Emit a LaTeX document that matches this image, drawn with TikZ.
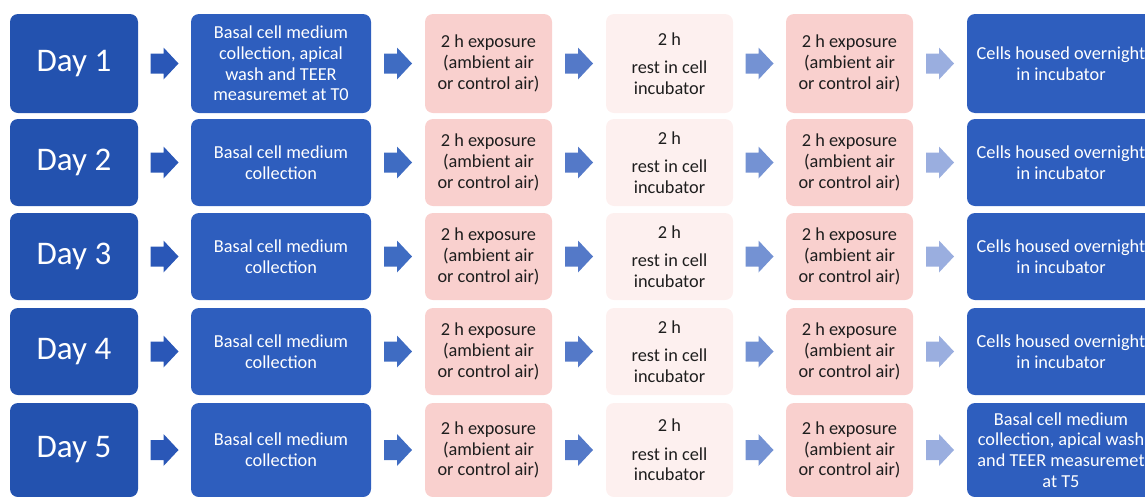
\documentclass[tikz,border=0pt]{standalone}
\usepackage{fontspec}
\setmainfont{Carlito}
\usetikzlibrary{calc}
\definecolor{dayblue}{HTML}{2352AF}
\definecolor{stepblue}{HTML}{2E5EBE}
\definecolor{expink}{HTML}{F9D0CE}
\definecolor{restpink}{HTML}{FDF0EF}
\definecolor{txtdark}{HTML}{1E1E1E}
\definecolor{arA}{HTML}{2A57B7}
\definecolor{arB}{HTML}{3F6CC2}
\definecolor{arC}{HTML}{5479C8}
\definecolor{arD}{HTML}{7492D3}
\definecolor{arE}{HTML}{9AAEDF}
\tikzset{
  box/.style={rectangle, rounded corners=8pt, inner sep=0pt, align=center,
    font=\fontsize{18.3}{20.6}\selectfont},
  daybox/.style={box, fill=dayblue, text=white, minimum width=128pt,
    font=\fontsize{33}{40}\selectfont},
  bluebox/.style={box, fill=stepblue, text=white},
  expbox/.style={box, fill=expink, text=txtdark, minimum width=127pt},
  restbox/.style={box, fill=restpink, text=txtdark, minimum width=127pt},
}
\newcommand\blockarrow[3]{%
  \path ($(#1.east)!0.5!(#2.west)$) coordinate (m);
  \fill[#3] ($(m)+(-14,-10)$) -- ($(m)+(-1,-10)$) -- ($(m)+(-1,-16)$) --
    ($(m)+(14,0)$) -- ($(m)+(-1,16)$) -- ($(m)+(-1,10)$) -- ($(m)+(-14,10)$) -- cycle;}
\begin{document}
\begin{tikzpicture}[x=1pt,y=-1pt]
\useasboundingbox (0,0) rectangle (1145,496);
\clip (0,0) rectangle (1145,496);
\foreach \r/\yc/\h/\btext/\ftext in {
  1/63.5/99/{Basal cell medium\\collection, apical\\wash and TEER\\measuremet at T0}/{Cells housed overnight\\in incubator},
  2/162.5/87/{Basal cell medium\\collection}/{Cells housed overnight\\in incubator},
  3/256.5/87/{Basal cell medium\\collection}/{Cells housed overnight\\in incubator},
  4/351.5/87/{Basal cell medium\\collection}/{Cells housed overnight\\in incubator},
  5/450/94/{Basal cell medium\\collection}/{Basal cell medium\\collection, apical wash\\and TEER measuremet\\at T5}} {
  \node[daybox, minimum height=\h pt] (day\r) at (74,\yc) {Day \r};
  \node[bluebox, minimum width=180pt, minimum height=\h pt] (s\r) at (281,\yc) {\btext};
  \node[expbox, minimum height=\h pt] (e\r) at (488.5,\yc) {2 h exposure\\(ambient air\\or control air)};
  \node[restbox, minimum height=\h pt] (r\r) at (669.5,\yc) {2 h\\[7.5pt]rest in cell\\incubator};
  \node[expbox, minimum height=\h pt] (x\r) at (849.5,\yc) {2 h exposure\\(ambient air\\or control air)};
  \node[bluebox, minimum width=188pt, minimum height=\h pt] (n\r) at (1061,\yc) {\ftext};
  \blockarrow{day\r}{s\r}{arA}
  \blockarrow{s\r}{e\r}{arB}
  \blockarrow{e\r}{r\r}{arC}
  \blockarrow{r\r}{x\r}{arD}
  \blockarrow{x\r}{n\r}{arE}
}
\end{tikzpicture}
\end{document}
